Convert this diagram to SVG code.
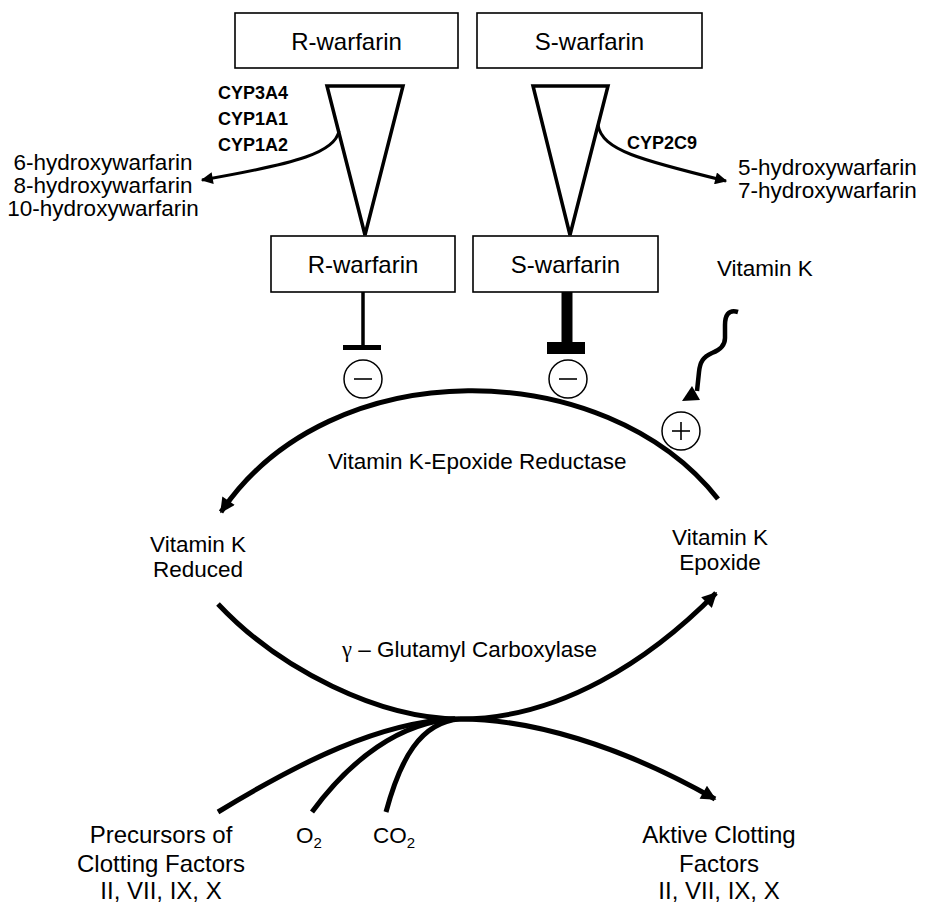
<svg xmlns="http://www.w3.org/2000/svg" width="925" height="903" viewBox="0 0 925 903">
<style>
text{font-family:"Liberation Sans",Arial,sans-serif;fill:#000}
.lbl{font-size:22.5px}
.big{font-size:24px}
.box{fill:#fff;stroke:#000;stroke-width:1.6}
.boxt{font-size:24px;text-anchor:middle}
.cyp{font-size:18px;font-weight:bold}
.tri{fill:#fff;stroke:#000;stroke-width:3.5;stroke-linejoin:miter}
.thin{fill:none;stroke:#000;stroke-width:3}
.thick{fill:none;stroke:#000;stroke-width:5}
.circ{fill:#fff;stroke:#000;stroke-width:1.5}
.mid{text-anchor:middle}
</style>
<defs>
<marker id="ah" viewBox="0 0 10 10" refX="9" refY="5" markerWidth="15" markerHeight="12" markerUnits="userSpaceOnUse" orient="auto"><path d="M0,0 L10,5 L0,10 z" fill="#000"/></marker>
<marker id="ahb" viewBox="0 0 10 10" refX="9" refY="5" markerWidth="19" markerHeight="15" markerUnits="userSpaceOnUse" orient="auto"><path d="M0,0 L10,5 L0,10 z" fill="#000"/></marker>
</defs>

<g id="r-warfarin-top"><rect class="box" x="235" y="13" width="223" height="55"/><text class="boxt" x="346.5" y="50" font-size="25">R-warfarin</text></g>
<g id="s-warfarin-top"><rect class="box" x="477" y="13" width="225" height="55"/><text class="boxt" x="589.5" y="50" font-size="25">S-warfarin</text></g>
<g id="r-funnel"><polygon class="tri" points="327,86 403,86 365,235"/></g>
<g id="s-funnel"><polygon class="tri" points="533,86 608,86 570,235"/></g>
<g id="r-warfarin-low"><rect class="box" x="271" y="236" width="184" height="56"/><text class="boxt" x="363" y="273">R-warfarin</text></g>
<g id="s-warfarin-low"><rect class="box" x="473" y="236" width="185" height="56"/><text class="boxt" x="565.5" y="273">S-warfarin</text></g>

<g id="cyp-r"><text class="cyp" x="218" y="99">CYP3A4</text><text class="cyp" x="218" y="125">CYP1A1</text><text class="cyp" x="218" y="151">CYP1A2</text></g>
<g id="cyp-s"><text class="cyp" x="627" y="149">CYP2C9</text></g>
<g id="r-metabolites"><text class="lbl mid" x="103" y="170">6-hydroxywarfarin</text><text class="lbl mid" x="103" y="193">8-hydroxywarfarin</text><text class="lbl mid" x="103" y="216">10-hydroxywarfarin</text></g>
<g id="s-metabolites"><text class="lbl" x="738" y="175">5-hydroxywarfarin</text><text class="lbl" x="738" y="198">7-hydroxywarfarin</text></g>

<g id="minus-r"><circle class="circ" cx="363" cy="379" r="19"/><line x1="354" y1="379" x2="372" y2="379" stroke="#000" stroke-width="1.6"/></g>
<g id="minus-s"><circle class="circ" cx="568" cy="379" r="19"/><line x1="559" y1="379" x2="577" y2="379" stroke="#000" stroke-width="1.6"/></g>
<g id="plus"><circle class="circ" cx="681" cy="431" r="19"/><line x1="672" y1="431" x2="690" y2="431" stroke="#000" stroke-width="1.6"/><line x1="681" y1="422" x2="681" y2="440" stroke="#000" stroke-width="1.6"/></g>

<g id="vitk-label"><text class="lbl" x="717" y="276">Vitamin K</text></g>
<g id="vitk-reduced"><text class="lbl mid" x="198" y="552">Vitamin K</text><text class="lbl mid" x="198" y="577">Reduced</text></g>
<g id="vitk-epoxide"><text class="lbl mid" x="720" y="545">Vitamin K</text><text class="lbl mid" x="720" y="570">Epoxide</text></g>
<g id="vkor-label"><text class="lbl" x="328" y="469">Vitamin K-Epoxide Reductase</text></g>
<g id="ggc-label"><text class="lbl" x="342" y="657"><tspan font-family="Liberation Serif,serif">γ</tspan> – Glutamyl Carboxylase</text></g>
<g id="precursors"><text class="big mid" x="161" y="843">Precursors of</text><text class="big mid" x="161" y="872">Clotting Factors</text><text class="big mid" x="161" y="899">II, VII, IX, X</text></g>
<g id="o2"><text class="lbl mid" x="309" y="843">O<tspan font-size="15" dy="5">2</tspan></text></g>
<g id="co2"><text class="lbl mid" x="394" y="843">CO<tspan font-size="15" dy="5">2</tspan></text></g>
<g id="active"><text class="big mid" x="719" y="843">Aktive Clotting</text><text class="big mid" x="719" y="872">Factors</text><text class="big mid" x="719" y="899">II, VII, IX, X</text></g>

<g id="connectors">
<path class="thin" d="M339,131 C335,152 300,163 202,180" marker-end="url(#ah)"/>
<path class="thin" d="M598,125 C602,150 640,160 726,181" marker-end="url(#ah)"/>
<line x1="363" y1="292" x2="363" y2="347" stroke="#000" stroke-width="3.5"/>
<rect x="343" y="345" width="38" height="5" fill="#000"/>
<line x1="567" y1="292" x2="567" y2="344" stroke="#000" stroke-width="11"/>
<rect x="547" y="342" width="38" height="12" fill="#000"/>
<path fill="none" stroke="#000" stroke-width="4.5" d="M738,312 C728,309 725,316 725,325 L725,338 C725,346 720,350 712,353 C703,357 700,362 699,372 L697,391"/>
<polygon points="682,401 692,386 700,400" fill="#000"/>
<path class="thick" d="M718,499 C605,355 330,350 221,512" marker-end="url(#ahb)"/>
<path class="thick" d="M218,604 C280,670 380,719 460,719 C560,719 650,660 716,593" marker-end="url(#ahb)"/>
<path class="thick" d="M218,812 C300,762 380,722 455,719"/>
<path class="thick" d="M312,812 C350,760 400,722 455,719"/>
<path class="thick" d="M386,812 C400,760 420,722 460,719"/>
<path class="thick" d="M460,719 C530,719 620,745 715,799" marker-end="url(#ahb)"/>
</g>
</svg>
